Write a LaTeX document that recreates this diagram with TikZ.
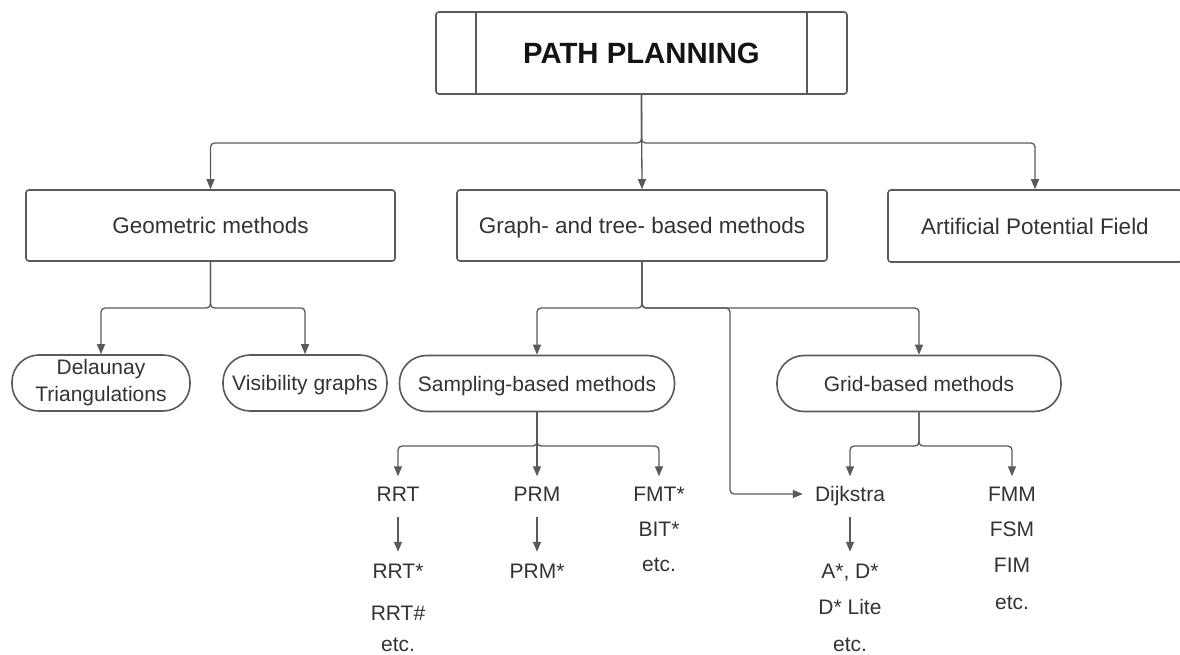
\documentclass[tikz,border=0pt]{standalone}
\usepackage{fontspec}
\setmainfont{Liberation Sans}
\usetikzlibrary{arrows.meta}
\definecolor{ln}{HTML}{5A5A5A}
\definecolor{tx}{HTML}{333333}
\begin{document}
\begin{tikzpicture}[x=1pt,y=-1pt,
  box/.style={draw=ln, line width=1.6pt, rounded corners=3pt, text=tx, inner sep=0pt,
    text height=16pt, text depth=0pt, font=\fontsize{22.5}{27}\selectfont},
  stadbase/.style={draw=ln, line width=1.6pt, rounded corners=27pt, text=tx, align=center,
    minimum height=56pt, inner sep=0pt, font=\fontsize{21}{27}\selectfont},
  stad/.style={stadbase, text height=15pt, text depth=0pt},
  item/.style={text=tx, inner sep=0pt, text height=15pt, text depth=0pt,
    font=\fontsize{21}{25}\selectfont},
  conn/.style={draw=ln, line width=1.3pt, rounded corners=4pt,
    -{Triangle[width=8pt,length=10pt]}},
  down/.style={conn, shorten >=10pt},
  seq/.style={conn, rounded corners=0pt, shorten <=15.5pt, shorten >=11.5pt}]
\clip (0,0) rectangle (1180,655);
\fill[white] (0,0) rectangle (1180,655);
% top
\node[box, minimum width=411pt, minimum height=82pt, text=black!92, text height=21pt,
  font=\bfseries\fontsize{29.3}{34}\selectfont] (top) at (641.5,53) {PATH PLANNING};
\draw[draw=ln, line width=1.6pt] ([xshift=41pt]top.north west) -- ([xshift=41pt]top.south west);
\draw[draw=ln, line width=1.6pt] ([xshift=-41pt]top.north east) -- ([xshift=-41pt]top.south east);
% level 1
\node[box, minimum width=369pt, minimum height=71pt] (geo) at (210.5,225.5) {Geometric methods};
\node[box, minimum width=370pt, minimum height=71pt] (graph) at (642,225.5) {Graph- and tree- based methods};
\node[box, minimum width=294pt, minimum height=72pt] (apf) at (1035,226) {Artificial Potential Field};
% level 2
\node[stadbase, minimum width=178pt] (del) at (101,383) {Delaunay\\Triangulations};
\node[stad, minimum width=164pt] (vis) at (305,383) {Visibility graphs};
\node[stad, minimum width=275pt] (samp) at (537,383.5) {Sampling-based methods};
\node[stad, minimum width=284pt] (grid) at (919,383.5) {Grid-based methods};
% items
\node[item] (rrt) at (398,494) {RRT};
\node[item] (rrts) at (398,571) {RRT*};
\node[item] (rrth) at (398,613) {RRT\#};
\node[item] (rrte) at (398,644) {etc.};
\node[item] (prm) at (537,494) {PRM};
\node[item] (prms) at (537,571) {PRM*};
\node[item] (fmt) at (659,494) {FMT*};
\node[item] (bit) at (659,529) {BIT*};
\node[item] (fmte) at (659,564) {etc.};
\node[item] (dij) at (850,494) {Dijkstra};
\node[item] (ad) at (850,571) {A*, D*};
\node[item] (dl) at (850,607) {D* Lite};
\node[item] (dije) at (850,644) {etc.};
\node[item] (fmm) at (1012,494) {FMM};
\node[item] (fsm) at (1012,529) {FSM};
\node[item] (fim) at (1012,565) {FIM};
\node[item] (fmme) at (1012,602) {etc.};
% junctions
\coordinate (j1) at (641.5,143);
\coordinate (j2) at (210.5,308);
\coordinate (j3) at (642,308);
\coordinate (jd) at (730,308);
\coordinate (j4) at (537,446);
\coordinate (j5) at (919,446);
% connectors
\draw[conn] (top.south) -- (j1) -| (geo.north);
\draw[conn] (top.south) -- (graph.north);
\draw[conn] (top.south) -- (j1) -| (apf.north);
\draw[conn] (geo.south) -- (j2) -| (del.north);
\draw[conn] (geo.south) -- (j2) -| (vis.north);
\draw[conn] (graph.south) -- (j3) -| (samp.north);
\draw[conn] (graph.south) -- (j3) -| (grid.north);
\draw[conn, shorten >=12pt] (graph.south) |- (jd) |- (dij.west);
\draw[down] (samp.south) -- (j4) -| (rrt.north);
\draw[down] (samp.south) -- (prm.north);
\draw[down] (samp.south) -- (j4) -| (fmt.north);
\draw[down] (grid.south) -- (j5) -| (dij.north);
\draw[down] (grid.south) -- (j5) -| (fmm.north);
\draw[seq] (rrt.south) -- (rrts.north);
\draw[seq] (prm.south) -- (prms.north);
\draw[seq] (dij.south) -- (ad.north);
\end{tikzpicture}
\end{document}
